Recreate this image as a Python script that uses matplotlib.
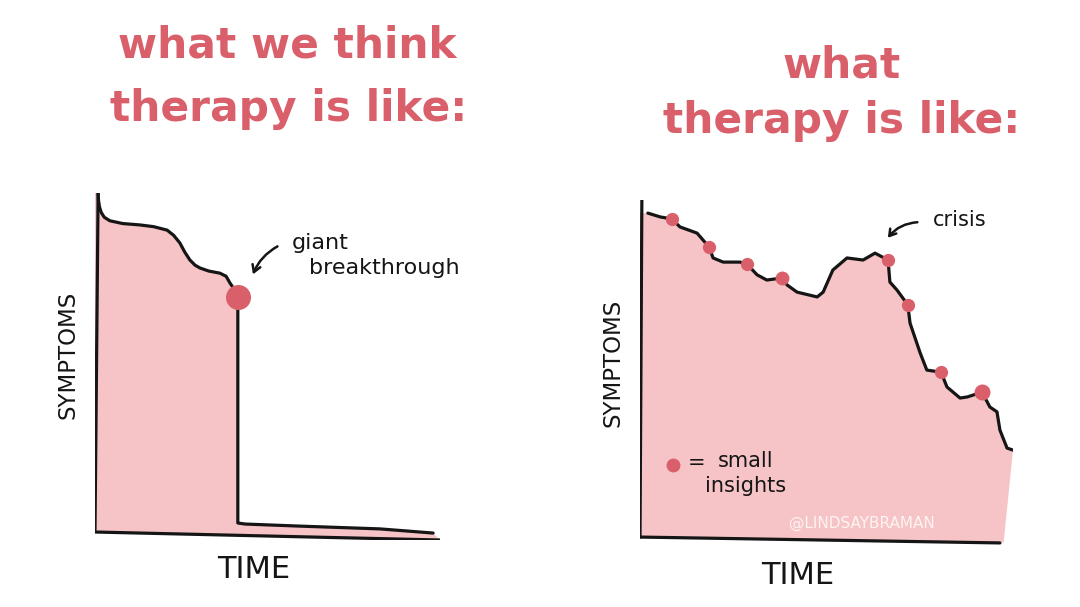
import matplotlib
matplotlib.use("Agg")
import matplotlib.pyplot as plt

# colours
PINK = "#f6c4c6"
RED = "#d9606b"
INK = "#151515"

# left panel: what we think therapy is like (time 0-100, symptoms 0-100)
think_time = [0.9, 1.0, 1.3, 1.8, 2.7, 4.3, 8.0, 13.0, 17.0, 20.9, 22.8, 24.6, 26.0, 27.5,
              29.0, 30.4, 33.0, 36.2, 38.0, 39.1, 40.5, 41.4,
              41.4, 43.5, 59.4, 82.6, 98.0]
think_symptoms = [100, 98.0, 96.0, 94.4, 93.0, 92.0, 91.2, 90.8, 90.3, 89.3, 87.8, 85.6, 83.0, 80.7,
                  79.2, 78.4, 77.5, 76.9, 76.0, 74.1, 72.0, 70.0,
                  4.9, 4.6, 4.0, 3.2, 2.0]
breakthrough = (41.4, 70.0)

# right panel: what therapy is like
real_time = [2.1, 5.4, 8.6, 10.7, 15.3, 18.5, 19.6, 22.3, 26.8, 28.7, 31.4, 34.0,
             38.1, 39.4, 42.1, 47.5, 49.1, 51.7, 55.5, 59.8, 63.0, 66.5, 67.0,
             68.9, 71.8, 72.4, 75.1, 76.9, 80.7, 82.3, 85.8, 87.7, 91.7, 93.8,
             95.7, 96.5, 98.4, 100.0]
real_symptoms = [96.2, 95.1, 94.5, 92.2, 90.4, 86.4, 83.2, 82.0, 82.0, 81.4, 78.3, 76.8,
                 77.4, 75.4, 73.3, 71.9, 73.3, 79.7, 83.2, 82.6, 84.6, 82.6, 76.2,
                 73.9, 69.6, 64.3, 55.7, 50.7, 50.1, 45.8, 42.6, 42.9, 44.3, 40.0,
                 38.6, 33.3, 28.1, 27.5]
insight_time = [8.6, 18.5, 28.7, 38.1, 66.5, 71.8, 80.7, 91.7]
insight_symptoms = [94.5, 86.4, 81.4, 77.4, 82.6, 69.6, 50.1, 44.3]
insight_size = [8.5, 8.5, 8.5, 9, 8.5, 8.5, 8.5, 10.5]

W, H = 1080, 607
fig = plt.figure(figsize=(W / 100, H / 100), dpi=100)
fig.patch.set_facecolor("white")

def px(x, y):
    return x / W, 1 - y / H

title_font = dict(family="DejaVu Sans", weight="bold", color=RED)
label_font = dict(family="DejaVu Sans", color=INK)

# ---------- left panel ----------
axL = fig.add_axes([95 / W, 67 / H, 345 / W, 347 / H])
axL.set_xlim(0, 100)
axL.set_ylim(0, 100)
axL.axis("off")

fill_x = [0.0] + think_time + [100.0, 0.0]
fill_y = [100.0] + think_symptoms + [0.0, 2.3]
axL.fill(fill_x, fill_y, color=PINK, lw=0, zorder=1)
axL.plot(think_time, think_symptoms, color=INK, lw=2.3, solid_capstyle="round",
         solid_joinstyle="round", zorder=3)
axL.plot([0.9, 0.0], [100, 2.9], color=INK, lw=2.3, solid_capstyle="round", zorder=3)
axL.plot([0.0, 100.0], [2.3, 0.0], color=INK, lw=2.3, solid_capstyle="round", zorder=3)
axL.plot(*breakthrough, "o", ms=17, color=RED, mec=RED, zorder=4, clip_on=False)

axL.annotate("", xy=(45.5, 75.8), xytext=(53.6, 85.0),
             arrowprops=dict(arrowstyle="->,head_length=0.5,head_width=0.3", color=INK,
                             lw=1.8, connectionstyle="arc3,rad=0.2"),
             annotation_clip=False)
axL.text(57.0, 85.5, "giant", fontsize=16, va="center", ha="left", **label_font)
axL.text(62.0, 78.3, "breakthrough", fontsize=16, va="center", ha="left", **label_font)

# ---------- right panel ----------
axR = fig.add_axes([640 / W, 62 / H, 373 / W, 345 / H])
axR.set_xlim(0, 100)
axR.set_ylim(0, 100)
axR.axis("off")

fill_x = [0.0] + real_time + [97.5, 0.0]
fill_y = [96.2] + real_symptoms + [0.8, 2.3]
axR.fill(fill_x, fill_y, color=PINK, lw=0, zorder=1)
axR.plot(real_time, real_symptoms, color=INK, lw=2.3, solid_capstyle="round",
         solid_joinstyle="round", zorder=3)
axR.plot([0.5, 0.0], [100, 2.3], color=INK, lw=2.3, solid_capstyle="round", zorder=3)
axR.plot([0.0, 96.5], [2.3, 0.6], color=INK, lw=2.3, solid_capstyle="round", zorder=3)
for t, s, m in zip(insight_time, insight_symptoms, insight_size):
    axR.plot(t, s, "o", ms=m, color=RED, mec=RED, zorder=4)

axR.annotate("", xy=(66.0, 88.4), xytext=(75.1, 93.6),
             arrowprops=dict(arrowstyle="->,head_length=0.45,head_width=0.28", color=INK,
                             lw=1.8, connectionstyle="arc3,rad=0.25"),
             annotation_clip=False)
axR.text(78.5, 94.2, "crisis", fontsize=15, va="center", ha="left", **label_font)

axR.plot(8.8, 23.2, "o", ms=9, color=RED, mec=RED, zorder=4)
axR.text(12.7, 23.8, "=", fontsize=15, va="center", ha="left", **label_font)
axR.text(20.9, 24.4, "small", fontsize=15, va="center", ha="left", **label_font)
axR.text(17.5, 17.2, "insights", fontsize=15, va="center", ha="left", **label_font)
axR.text(59.5, 6.4, "@LINDSAYBRAMAN", fontsize=11, va="center", ha="center",
         color="white", alpha=0.8, family="DejaVu Sans")

# ---------- titles and axis labels ----------
fig.text(*px(287, 57), "what we think", fontsize=30.5, ha="center", va="baseline", **title_font)
fig.text(*px(289, 121), "therapy is like:", fontsize=30.5, ha="center", va="baseline", **title_font)
fig.text(*px(842, 78), "what", fontsize=30.5, ha="center", va="baseline", **title_font)
fig.text(*px(842, 133), "therapy is like:", fontsize=30.5, ha="center", va="baseline", **title_font)

fig.text(*px(68, 355), "SYMPTOMS", fontsize=16.5, rotation=90, ha="center", va="center", **label_font)
fig.text(*px(613, 363), "SYMPTOMS", fontsize=16.5, rotation=90, ha="center", va="center", **label_font)
fig.text(*px(254, 570), "TIME", fontsize=22, ha="center", va="center", **label_font)
fig.text(*px(798, 575), "TIME", fontsize=22, ha="center", va="center", **label_font)

fig.savefig("out.png", dpi=100, facecolor="white")
